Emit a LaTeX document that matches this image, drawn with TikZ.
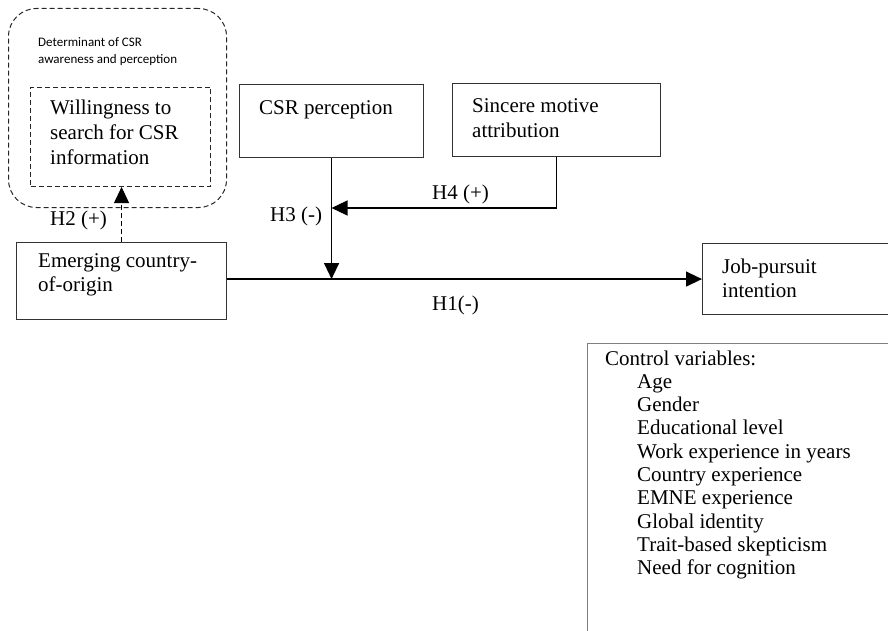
\documentclass[tikz,border=0pt]{standalone}
\usepackage{fontspec}
\setmainfont{Liberation Serif}
\newfontfamily\smallsans{Carlito}
\usetikzlibrary{arrows.meta}
\tikzset{
  box/.style={draw=black!80, line width=1.1pt, inner sep=0pt, anchor=north west},
  dbox/.style={draw=black!85, line width=1.0pt, dash pattern=on 5pt off 3pt, inner sep=0pt, anchor=north west},
  txt/.style={inner sep=0pt, anchor=base west, font=\fontsize{21}{24}\selectfont},
  stxt/.style={inner sep=0pt, anchor=base west, font=\smallsans\fontsize{13}{16}\selectfont},
  arr/.style={line width=1.3pt, -{Triangle[length=16pt,width=15pt]}},
  link/.style={line width=1.3pt},
}
\begin{document}
\begin{tikzpicture}[x=1pt,y=-1pt]
\useasboundingbox (0,0) rectangle (888,631);
\clip (0,0) rectangle (888,631);
% outer rounded dashed frame
\node[dbox, rounded corners=28pt, minimum width=218pt, minimum height=199pt] (det) at (8,8) {};
\node[stxt] (dett1) at (38,47) {Determinant of CSR};
\node[stxt] (dett2) at (38,64) {awareness and perception};
% inner dashed box
\node[dbox, minimum width=180pt, minimum height=99pt] (will) at (30,87) {};
\node[txt] (willt1) at (50,115) {Willingness to};
\node[txt] (willt2) at (50,140) {search for CSR};
\node[txt] (willt3) at (50,165) {information};
% emerging
\node[box, minimum width=210pt, minimum height=77pt] (emerg) at (16,242) {};
\node[txt] (emt1) at (38,267) {Emerging country-};
\node[txt] (emt2) at (38,291) {of-origin};
% csr perception
\node[box, minimum width=184pt, minimum height=73pt] (csr) at (239,84) {};
\node[txt] (csrt) at (259,115) {CSR perception};
% sincere motive
\node[box, minimum width=208pt, minimum height=73pt] (sinc) at (452,83) {};
\node[txt] (sinct1) at (472,113) {Sincere motive};
\node[txt] (sinct2) at (472,138) {attribution};
% job pursuit
\node[box, minimum width=230pt, minimum height=71pt] (job) at (702,243) {};
\node[txt] (jobt1) at (722,273) {Job-pursuit};
\node[txt] (jobt2) at (722,297) {intention};
% control variables (partly outside the picture)
\node[draw=black!50, line width=0.9pt, inner sep=0pt, anchor=north west, minimum width=340pt, minimum height=320pt] (ctrl) at (587,343) {};
\node[txt] (ctrlt) at (605,365) {Control variables:};
\foreach \t [count=\i] in {Age,Gender,Educational level,Work experience in years,Country experience,EMNE experience,Global identity,Trait-based skepticism,Need for cognition}
  \node[txt] (ctrl\i) at (637,{365+\i*23.3}) {\t};
% connectors
\coordinate (h4turn) at (sinc.south |- 0,208);
\coordinate (h4end) at (csr.south |- 0,208);
\draw[arr] (emerg.east |- job.west) -- (job.west);
\draw[arr] (csr.south) -- (csr.south |- job.west);
\draw[link] (sinc.south) -- (h4turn);
\draw[arr] (h4turn) -- (h4end);
\draw[arr, dash pattern=on 5pt off 3pt, line width=1.0pt] (emerg.north) -- (emerg.north |- will.south);
% labels
\node[txt] (h1) at (432,310) {H1(-)};
\node[txt] (h2) at (50,225) {H2 (+)};
\node[txt] (h3) at (270,221) {H3 (-)};
\node[txt] (h4) at (432,200) {H4 (+)};
\end{tikzpicture}
\end{document}
